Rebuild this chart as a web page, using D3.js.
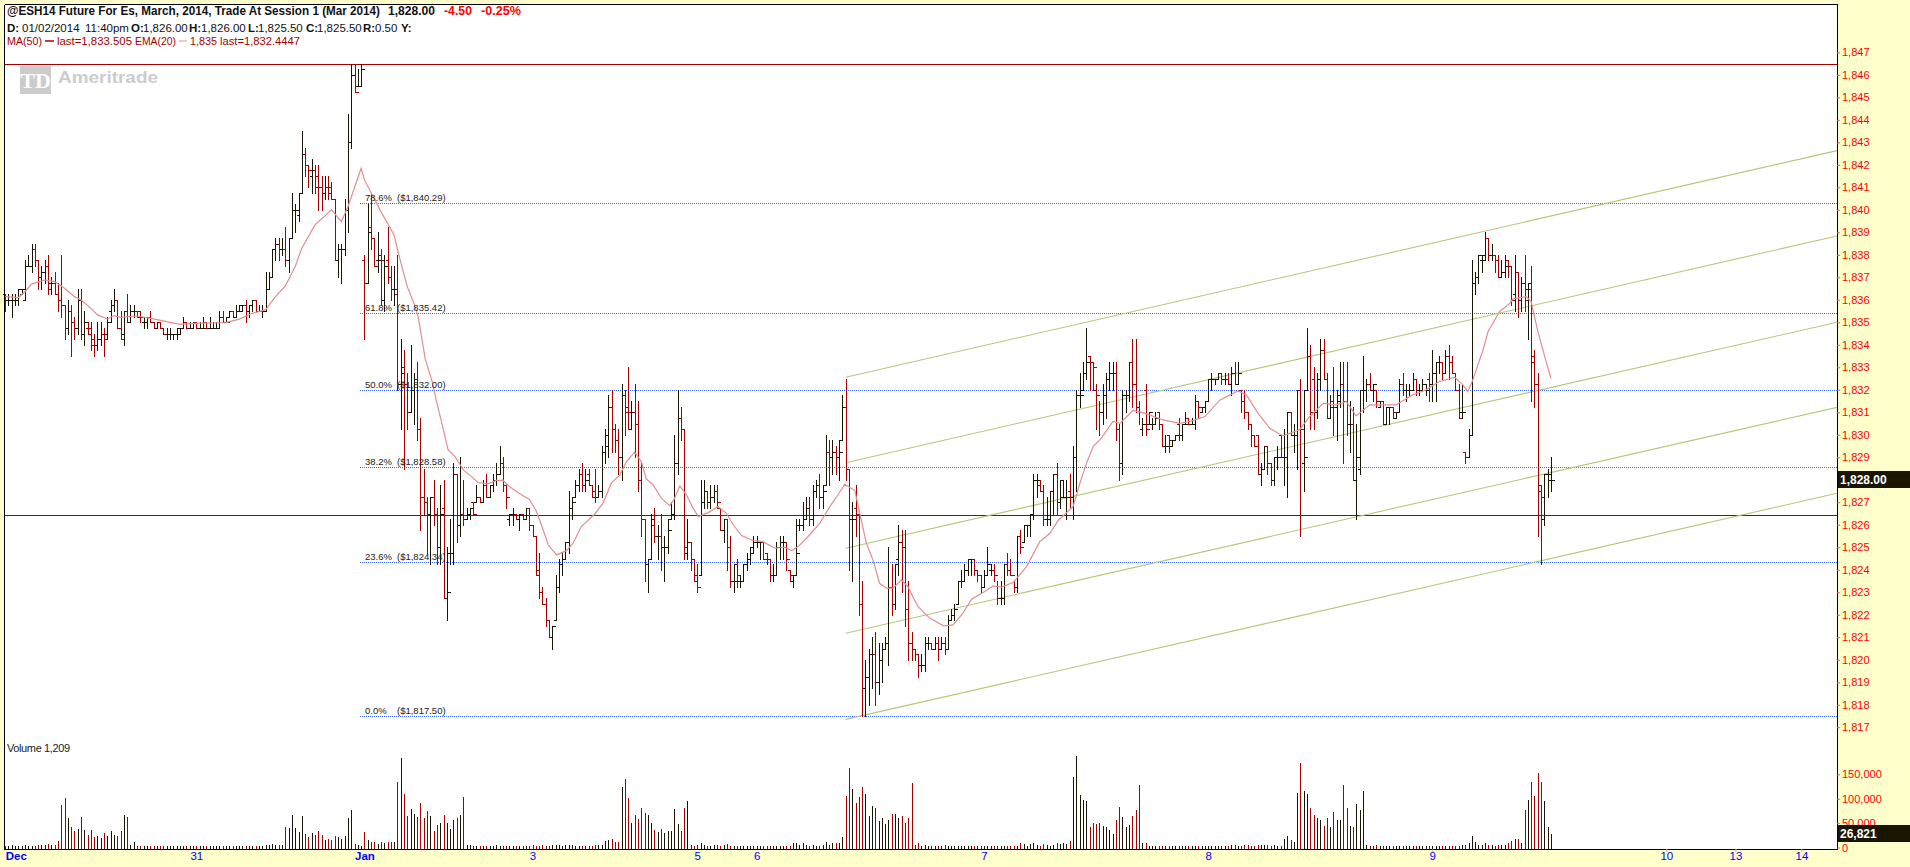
<!DOCTYPE html>
<html><head><meta charset="utf-8">
<script src="https://cdn.jsdelivr.net/npm/d3@7/dist/d3.min.js"></script>
<style>html,body{margin:0;padding:0;background:#ffffcc;overflow:hidden}svg{display:block}text{font-family:"Liberation Sans",Arial,sans-serif}</style>
</head><body><svg id="c" width="1910" height="867"></svg>
<script>
const priceBase = 1800;
const highs = [
36.25,36.25,36.25,36.25,36.5,36.5,37.75,38,38.5,38.5,
37.75,37.5,37.75,38,37,37.25,36.75,38,35.75,36,
35.75,35.25,36.5,36.5,35.5,35,35,34.5,35,35,
34.75,35.25,36,36.5,36,35.5,35.5,36.25,35.75,35.75,
35.5,35.5,35.25,35.25,35.5,35,35,35,34.75,34.75,
34.75,34.5,34.75,34.75,35.25,35,35,35,35,35,
35.25,35,35.25,35,35,35.5,35.5,35.25,35.5,35.5,
35.75,35.75,35.75,36,35.75,36,36,35.75,35.75,37.25,
37.25,38.25,38.75,38.75,38.75,39.25,38.75,40.75,40.25,40.75,
43.5,42.75,42,42.25,42,42,41.5,41.5,41.5,41.25,
40.5,38.5,38.5,40.5,44.25,46.5,46.5,46.25,46.5,38,
40.25,40.75,38.75,39,38.25,38,39.25,37.5,37.5,38,
34.25,33.75,32.75,34,32.75,33.25,30.75,28.5,27.25,27.25,
28,26.75,27.75,28,25,26.25,28.75,28.25,29,28,
26.75,26.75,27,27.75,27.25,28,28.25,27.75,28.25,28.75,
29.5,29,27.75,26.5,26.75,26.5,26.5,26.5,26.75,26.75,
26,25.5,24.75,23.25,22.75,21.75,21.5,23.75,24.5,24.75,
25.25,27.5,27.25,28,28.5,28.75,28.5,28.5,27.75,28.5,
27.75,29.5,30.25,31.75,32,30.5,30.25,32.25,32,33,
31.5,32.25,31.5,28.75,26.25,24.5,26.5,26.75,26,26.5,
25.5,26.25,27,30,32,31.25,30.25,26.25,25.25,24.5,
24.25,28,28,27.5,27.75,27.75,27.75,26.75,26.25,26.25,
25.5,24.25,24.5,23.75,24.25,24.75,25,25.5,25.5,25.25,
25.25,24.75,24.5,24.25,25.25,25.5,25.5,25.25,24,23.75,
26.25,26.25,27,27.25,27.25,27.75,28,28.25,27.75,30,
29.75,29.75,29.5,29.75,31.75,32.5,28.5,27,27.75,26.5,
23.5,20,20.5,21,21.25,20.75,20.75,21,25,24.25,
24.25,26,25.75,25.75,23.5,21.25,20.5,20.25,20.25,21,
21,20.75,21,21,21,21,22,22.25,22.5,23.5,
24,24.25,24.5,24.5,24.5,24,23.75,24,25,24.25,
24.25,23.5,23.5,24.25,24.75,24.5,23.5,25.5,25.75,26,
26,26.5,28.25,28.25,28,27.75,27.25,27.5,28.25,28.75,
28,28,28,28.25,29.5,32,32.75,33.25,34.75,33.5,
33.25,32.25,31.5,32.25,32.75,33.25,33.25,33.25,30.5,32,
32,33.25,34.25,34.25,31.5,30.75,32.25,31,30.75,31,
31,30.5,30,30,29.75,30,30.75,30.5,31,30.75,
30.75,31.75,31.5,31.25,31.5,32.5,32.75,32.5,32.75,32.75,
32.75,32.75,33,33.25,33.25,32,32,31,30.5,30,
30,28.75,29.5,29.5,28.75,29,29.5,30,30.25,31,
31,30.5,32,32.5,32,34.75,34,33,32.75,34.25,
34.25,32.75,31.75,33,32,33.25,33.25,33.25,31.5,31.25,
30.5,32,33.5,32.5,32.75,32.25,32,31.5,31.5,31.25,
31.25,31.25,31,32.5,32.75,32.25,32.25,32.75,32.5,32.25,
32.5,32.25,32.75,33.75,33.25,33.5,33.25,33.75,34,33.5,
32.75,32.25,32.25,29.25,30.25,37.75,37.25,38,38,39,
38.75,38.5,38,38,37.75,38,37.75,37.5,38,37.25,
37,38,36.75,37.5,33.75,32.75,27.75,28.25,28.5,29];
const lows = [
35.5,35.75,35.25,35.75,35.75,36.25,36,37.5,37.25,37.5,
36.5,36.5,36.75,36.25,36.25,36.25,35.5,35.25,34.25,34.5,
33.5,34.25,34.5,34.25,34,34.5,33.75,33.5,33.75,34,
33.5,34.25,35,35.5,34.75,34.25,34,35,35,35.25,
35.25,35,34.75,34.75,35,34.75,34.75,34.75,34.5,34.25,
34.25,34.25,34.25,34.5,34.75,34.75,34.75,34.75,34.75,34.75,
34.75,34.75,34.75,34.75,34.75,34.75,35,35,35.25,35.25,
35.25,35.5,35.5,35,35.25,35.5,35.5,35.5,35.25,35.5,
36.5,37,37.75,37.75,38,37.5,37.25,38.75,39,39.5,
40.75,41.5,41,40.75,40.75,40,40,40.5,40.5,40.5,
37.75,37,36.75,38,39,42.75,45.25,45.5,45.5,34.25,
36.75,38.25,37.5,37.25,35.75,35.5,36.75,36,35.75,32,
30.25,28.5,30.25,31,30.5,29.75,25.75,26.5,24.75,24.25,
26,24.25,24.25,22.75,21.75,24.25,24.25,25.25,25.5,26,
26.25,26.25,26.5,27,27,27,27.25,27.25,27.5,27.75,
28.25,27.5,26.75,26,26,26.25,25.75,26.25,26.25,25.75,
25.5,23.75,22.75,22.5,21.5,21,20.5,21.75,23,23.75,
24.5,24.75,26.25,27.25,27.5,27.5,27.5,27.75,27.25,27,
27.25,27.25,28.75,29,29.25,29.25,28.25,28,30,30.25,
30.25,29,27.5,25.5,23.5,23,24.5,25.25,24.5,24,
23.5,24.75,26.25,26.25,28.25,29.75,24.5,24.5,24,23.5,
23,23.75,26.75,26.75,26.75,27,26.75,25.75,25.25,24,
23.25,23,23.25,23.25,23.5,24,24.25,24.75,25,24.5,
24.5,24.25,23.5,23.5,23.75,24.5,24.5,24,23.5,23.25,
23.75,25.75,25.75,26.25,26,26,27.25,26.75,26.75,27.75,
27.75,28.25,28.25,28,29.75,28,24,23.5,25.5,22,
17.5,17.5,18,18.75,18,18.5,19,20.5,19.75,22,
22.25,23.75,23,21.5,20,20,20,19.25,19.5,19.5,
20.5,20.5,20.5,20,20.5,20.25,20.5,21.75,21.75,22.5,
23.25,23.5,23.75,23.75,23.75,23.5,23,23.25,23.75,23.75,
23.5,22.5,22.5,22.5,23.75,23.75,23,23,24.75,25.25,
25.5,25.5,26.25,27.25,27.5,26,26,26,26.5,26.5,
26.75,27.25,26.25,26.75,26.25,27.5,31.25,32,32.5,32,
32,30.25,30,30.5,30.75,32,32,29.75,28,28.25,
31,31.5,31.25,31,30.5,30,30,30.5,30.25,30.5,
30.25,29.5,29.25,29.25,29.5,29.75,29.75,29.75,30.5,30.5,
30.5,30.25,30.75,31,31,31.5,32,32.25,32.5,32.25,
32.25,32.25,31.75,32.25,32.25,31,30.75,30.25,29.5,29.5,
28.25,27.75,28.5,28.25,27.75,27.75,28.5,29,27.75,27.25,
30,29.25,28.5,25.5,27.5,32,30.25,30.25,30.75,32,
32.5,30.75,30.75,30,29.75,31.25,28.75,30,29.25,28,
26.25,28.25,31,31.5,32,31.5,31.25,31.25,30.5,30.5,
30.5,30.75,30.75,31,31.75,31.5,31.75,32,31.75,31.75,
32,31.75,31.5,31.5,31.5,32.75,32.5,32.75,32.5,32.75,
32,30.75,30.75,28.75,29,30,36.25,36.75,37.25,37.75,
37.75,37.75,37.25,37,37,37,37,35.75,35.5,35.25,
35.5,35.5,34.25,31.5,31.25,25.5,24.25,26,27.25,27.5];
const opens = [
36.25,36,36,36,36,36.25,36,37.5,37.5,38.25,
37.75,37,37.25,37.5,36.75,36.75,36.25,36,35.75,34.75,
35.5,35,34.75,36,34.5,34.75,34.75,34.25,34,34.25,
34.5,34.5,35.5,35.75,36,34.75,34.5,35.5,35,35.5,
35.5,35.5,35,35,35.25,35,34.75,35,34.75,34.5,
34.5,34.5,34.5,34.5,34.75,35,34.75,34.75,35,34.75,
34.75,35,34.75,34.75,34.75,34.75,35.25,35,35.25,35.5,
35.25,35.5,35.5,35.75,35.5,35.75,36,35.5,35.5,35.5,
36.5,37,38.25,38.5,38.25,38.25,37.75,38.75,40,39.75,
40.75,42.5,42,41.5,41.75,41.5,41,40.75,41,41,
40.5,37.75,38.25,38.25,40,43,46.5,45.5,45.5,37.75,
36.75,39.25,38.75,37.75,38,36,37.75,37,36.5,36.25,
32.25,33,32.25,31,32,32.5,30.25,27.25,27,26.5,
27.25,26.5,25,26.75,22.75,24.75,24.75,28.25,26,26.5,
26.25,26.5,27,27,27.25,27,27.75,27.25,27.75,28,
28.25,28.75,27.75,26.25,26.5,26.5,26.25,26.5,26.25,26.75,
26,25.5,24,23,22.5,21.75,21,21.75,23.25,24.25,
24.5,25.25,26.75,27.25,27.75,28.25,27.75,28.25,27.75,27.5,
27.25,27.5,29.25,30,31.25,30.25,29.75,29,31.75,31.25,
30.25,31,30.5,28,26.25,24.25,24.5,26,25.5,25.5,
25,25,26.25,26.5,28.75,30.75,30.25,24.75,25.25,24.5,
23.75,23.75,27,27.5,27,27.25,27.5,26.75,25.75,26.25,
25,23.5,24.25,23.5,23.5,24.25,24.5,24.75,25.25,25.25,
25.25,24.75,24.5,23.75,23.75,25,25.25,25,24,23.5,
23.75,26,26,26.25,26.75,26.25,27.5,27.75,27.25,27.75,
29.25,29,29.25,29,29.75,31.25,28.5,26.25,26.75,26.5,
22.5,18.75,19.25,20.25,20.25,19,20,20.5,20.75,23.25,
22.5,24.5,25.25,25,22.25,20.75,20.5,20.25,19.75,19.75,
20.75,20.75,20.5,20.75,20.5,20.75,20.5,21.75,22,22.5,
23.5,23.5,24,24.5,24.5,24,23.75,23.25,23.75,24,
24,23.75,22.75,22.75,24.25,24,23.75,23.25,25.5,25.25,
26,26,26.5,28,27.75,27.5,26.25,26.25,27.5,28.25,
27,27.25,27.25,27.5,27.25,29,31.75,32,32.75,33.5,
33.25,32,31.75,31,31.75,32.5,32.75,32.75,30.25,28.75,
31.75,31.75,33.25,32.25,31.25,30.25,32,30.5,30.5,30.5,
31,30.5,29.5,30,29.5,29.75,30.5,30,30.5,30.75,
30.5,30.5,31.5,31,31.25,31.5,32.5,32.5,32.5,32.75,
32.5,32.5,32.25,32.75,32.25,32,31.5,31,30.5,30,
30,28.25,28.5,29.5,28.75,28,29,30,29,29,
31,30,30,32,28.75,32,33.5,32.5,31,32.5,
33.75,32.5,30.75,31.5,31.25,31.5,32.25,31.5,30.5,30.5,
28,28.5,32,32,32.25,32,32,31.25,31.5,30.5,
31.25,31.25,30.75,31,32.25,32,32,32,32.5,32,
32,32,32.5,32.25,32.75,33.25,33.25,32.75,33.5,33.25,
32.75,32,31,29.25,29,30,36.75,37,37.75,37.75,
38.75,38,38,37.75,37,37.25,37.75,37.5,36.25,37.25,
36,36.75,36.5,36.5,33.25,32.25,27.5,26.25,28.25,28];
const closes = [
36,36,36,36,36.5,36.5,37.5,37.5,38.25,37.75,
37,37.25,37.5,36.5,36.75,36.25,36,35.75,34.75,35.5,
35,34.75,36,34.5,35,34.5,34,34,34.25,34.5,
34.25,35,35.75,36,34.75,34.25,35.5,35,35.5,35.5,
35.25,35.25,35.25,35.25,35,34.75,35,34.75,34.5,34.5,
34.5,34.5,34.75,34.75,35,34.75,34.75,35,34.75,34.75,
34.75,34.75,34.75,34.75,34.75,35.25,35,35,35.5,35.25,
35.5,35.75,35.75,35.5,35.75,36,35.5,35.5,35.5,36.5,
37,38.25,38.5,38.25,38.25,37.75,38.75,40,40,40.75,
42.5,42,41.75,41.75,41,41,40.75,41,40.75,40.5,
37.75,38.25,38.25,40,43,46,45.25,45.5,46.25,36.75,
39,38.75,37.5,37.75,37.75,37.5,37,36.5,36.5,32.25,
32.75,32.25,31,32,32.5,30.25,27.25,27,26.5,27.25,
26.5,25,26.5,22.75,23,24.75,28.25,26,26.5,26.25,
26.5,26.75,26.5,27.25,27,27.75,27.25,27.75,28,28.25,
28.75,27.75,27.25,26.5,26.5,26.25,26.5,26.25,26.75,26,
25.5,23.75,23,22.5,21.75,21,21.5,23.25,24.25,24.5,
25.25,26.75,27,27.75,28.25,27.75,28,27.75,27.25,27.25,
27.5,29.25,29.5,31.25,30.25,29.75,29,31.75,31,31,
31,30.5,28,26.25,24.25,24.5,26.25,25.5,25.5,25,
25,25.75,26.5,28.75,30.75,30.25,25,25.25,24.5,23.5,
23.25,27,27.5,27,27.25,27.5,27,25.75,26.25,25,
23.5,23.5,23.75,23.5,24.25,24.5,25,25.25,25.25,25.25,
24.5,24.5,23.75,23.75,25,25.25,25.25,24.5,23.75,23.75,
24.75,26,26.25,26.75,26.25,27.5,27.75,27.25,27.5,29.25,
29,29.25,29,29.25,31.25,28.5,26.25,26.25,26.5,22.5,
18.75,19.25,20.25,20.25,19,20,20.5,20.75,23.25,22.5,
24.25,25.25,25,22.25,20.75,20.5,20.25,19.75,19.75,20.75,
20.75,20.5,20.75,20.5,20.75,20.5,21.75,22,22.25,23.5,
23.5,24,24.5,24.5,24,23.75,23.25,23.75,24.25,24,
23.75,22.75,22.75,24.25,24,23.75,23.25,25.5,25,26,
26,26.5,28,28,27.5,26.25,26.25,27.5,28.25,27,
28,27.25,27.25,27.25,29,31.75,31.75,32.75,33.25,33.25,
33,31.75,31,31.75,32.5,32.75,32.75,30.25,28.75,31.75,
31.75,33.25,32.25,31.25,31,30.5,30.25,31,30.5,30.75,
30.5,29.5,29.5,29.75,29.75,30,30,30.5,30.5,30.5,
30.5,31.5,31.25,31.25,31.5,32.5,32.5,32.5,32.75,32.5,
32.5,32.25,32.75,32.25,32.75,31.5,31,30.5,30,29.5,
28.25,28.5,29.5,28.75,28,29,29,29,29,31,
30,30,32,30.25,29,33.5,31,31,32.5,33.75,
32.5,30.75,31.25,31.25,31.75,32.25,31.5,30.5,30.5,28,
29,32,32,32.25,32,32.25,31.5,31.5,30.5,31.25,
31.25,31,31,32.25,32,32,32,32.5,32,32,
32.25,32,32.25,32.75,33.25,33.25,32.75,33.5,33.25,32.75,
32,30.75,31,29,30,36.75,37,38,38,38.75,
38,38,37.75,37,37.25,37.5,37.5,36,37.25,36,
36.75,36,36.75,33.5,32.25,27.75,27.25,28.25,28.25,28];
const volumesK = [
3,4,6,4,4,4,6,4,4,4, 6,5,6,8,6,6,14,88,102,61,
41,33,38,62,36,26,36,21,23,19, 30,23,34,26,23,34,67,63,6,12,
3,3,3,3,3,3,3,3,3,3, 3,3,3,4,3,3,3,3,3,3,
3,3,3,3,3,3,3,3,3,3, 3,3,3,3,3,3,3,3,4,6,
6,8,6,6,6,42,40,67,40,32, 65,27,21,30,26,34,26,15,17,15,
23,21,17,23,61,77,8,6,4,32, 15,12,12,8,12,10,12,12,12,135,
183,110,65,79,69,63,92,61,75,65, 34,46,50,67,50,38,57,61,67,104,
6,6,4,4,4,4,4,4,4,6, 4,4,4,4,4,4,4,4,4,4,
6,4,4,6,4,4,5,5,5,4, 6,5,5,4,4,4,4,4,4,5,
5,5,13,15,18,11,11,123,140,101, 50,66,58,80,71,67,50,35,31,37,
29,33,33,78,48,33,80,95,6,4, 6,9,6,4,4,5,6,4,6,7,
4,4,4,4,4,4,4,4,4,4, 4,4,4,4,4,4,4,4,4,9,
9,6,9,6,4,6,4,4,6,11, 6,9,9,9,21,106,163,120,91,103,
125,110,65,86,80,54,61,48,56,69, 69,61,65,50,61,133,6,9,4,6,
4,4,4,4,4,5,4,4,4,4, 4,4,4,4,4,4,4,4,4,4,
4,4,4,4,4,4,4,4,10,8, 4,8,10,6,4,8,6,4,6,9,
8,9,8,13,145,187,107,98,96,41, 51,49,51,45,41,36,28,56,83,62,
43,47,64,77,128,9,9,4,4,4, 4,4,4,4,4,4,4,4,4,4,
4,4,4,4,4,4,4,4,4,4, 4,4,6,6,4,4,5,6,4,4,
6,6,5,5,4,6,4,4,17,24, 15,11,111,174,116,109,81,66,60,56,
45,60,43,73,56,56,128,81,45,41, 90,77,116,6,4,4,6,4,4,4,
4,4,4,4,4,4,4,4,4,4, 4,4,4,4,4,4,4,4,4,4,
4,4,5,5,9,24,11,6,6,9, 6,6,4,6,6,6,9,13,17,17,
9,77,98,135,105,152,135,96,43,27];
const emaIndex = [0,4,6,8,12,15,18,21,23,26,28,31,33,35,40,45,49,53,59,67,71,75,79,82,85,88,90,94,99,102,104,108,109,114,118,119.3,122,124,125.3,127.5,129.4,131,132,134.4,136.5,139,141.5,143.5,146.5,149,151,153.6,156.6,159,161,162.5,164.8,167.3,170.3,172.3,174.8,178.9,181.4,183.9,186.5,188.5,191,193,194.5,196.6,199.1,201.6,202.9,204.7,206.7,208.7,210.3,213.3,216.3,218.8,220.9,223.4,226.9,229.9,233.5,236.5,238.6,240.6,243.6,247.2,250.2,253,254.7,257.8,259.3,261.3,263.3,265.3,267.4,269.4,271.9,273.9,276.9,280.5,284.7,287.6,290.6,293.2,296.7,299.8,302.3,305.8,309.9,313.9,317,319.5,324,326.1,328.1,330.1,332.6,336.1,338.2,342.2,345.7,351.3,356.4,360.4,364,368.6,374.1,376.6,380.1,383.7,387.7,392.7,395.8,399.9,403.9,406.9,409.9,414,418,422,427,431,435,439.8,442.3,443.8,445.3,448.4,449.9,451.4,453.4,456.5,457.5,461.5,463,464,465.3,466,469];
const emaValues = [36.14,36.1,36.36,36.7,36.88,36.81,36.51,36.14,36,35.62,35.33,35.15,35.3,35.22,35.28,35.15,35.03,34.91,34.96,34.99,35.14,35.4,35.55,36.14,36.62,37.48,38.29,39.33,40,39.48,40.14,41.85,41.33,39.92,38.88,38.07,36.59,35.85,35.25,33.33,32.44,31.4,30.81,29.33,29.03,28.44,28.14,27.88,27.82,27.97,27.97,27.63,27.33,27.14,26.66,26.07,25.1,24.66,24.85,25.18,25.92,26.48,26.96,27.85,28.22,28.81,29.23,28.81,28.04,27.77,27.18,26.85,27.11,27.73,27.33,26.74,26.37,26.54,26.81,26.51,26,25.52,25.3,25.25,24.96,25,24.85,25.03,25.48,26.07,26.81,27.4,27.8,27.52,26.51,25.18,24.44,23.4,23.18,23.18,23.55,23.25,22.37,21.85,21.51,21.55,22.07,22.69,22.99,23.28,23.23,23.43,24.14,25.25,25.62,26.19,26.81,27.85,28.74,29.48,29.85,30.59,30.51,31.08,30.96,30.66,30.51,30.63,30.81,31.55,31.95,31.77,30.96,30.29,29.95,30.22,30.81,31.4,31.33,31.48,30.84,31.33,31.33,31.33,31.77,31.99,32.36,32.56,32.22,31.92,32.44,33.77,34.58,34.96,35.47,35.84,36.04,36.14,35.92,35.25,34.44,34.07,32.51];
const fibLevels = [1840.29,1835.42,1832,1828.58,1824.34,1817.5];
const fibPercents = ["78.6%","61.8%","50.0%","38.2%","23.6%","0.0%"];
const fibPrices = ["$1,840.29","$1,835.42","$1,832.00","$1,828.58","$1,824.34","$1,817.50"];
const swingHigh = 1846.5, refLine = 1826.44;
const channelStart = [1832.56,1828.76,1824.96,1821.18,1817.35];
const channelEnd = [1842.63,1838.84,1835.0,1831.22,1827.4];
const priceTicks = d3.range(1817,1848).filter(p=>p!==1828);
const volumeTicks = [0,50000,100000,150000];
const dateTickIndex = [0,58,109,160,210,228,297,365,433,504,525,545];
const dateTickLabels = ["Dec","31","Jan","3","5","6","7","8","9","10","13","14"];
const boldDates = ["Dec","Jan"];
const markedDates = ["9","10","13","14"];
const lastPrice = "1,828.00", lastVolume = "26,821";

const BLK="#1a1500", RED="#a80000", L=5, R=1837, T=5, B=849;
const svg=d3.select("#c");
svg.append("rect").attr("width",1910).attr("height",867).attr("fill","#ffffcc");
svg.append("rect").attr("x",L).attr("y",T).attr("width",R-L).attr("height",B-T).attr("fill","#fff");
const x=d3.scaleLinear().domain([0,555.8]).range([5.2,1837]);
const y=d3.scaleLinear().domain([1817.5,1840.29]).range([716,203.3]);
const yv=d3.scaleLinear().domain([0,150000]).range([847.5,774.3]);
const sx=i=>Math.round(x(i))+0.5, sy=v=>Math.round(y(v))+0.5;
const n=highs.length, idx=d3.range(n);
const col=i=>closes[i]<opens[i]?RED:BLK;

// logo
const logo=svg.append("g");
logo.append("rect").attr("x",20).attr("y",66).attr("width",31).attr("height",28).attr("fill","#cccccc");
logo.append("text").attr("x",35.5).attr("y",88).attr("text-anchor","middle").attr("fill","#fff").style("font-family","'Liberation Serif'").attr("font-weight",700).attr("font-size",22).text("TD");
logo.append("text").attr("x",58).attr("y",83).attr("fill","#cccccc").attr("font-weight",700).attr("font-size",16).attr("textLength",100).attr("lengthAdjust","spacingAndGlyphs").text("Ameritrade");

// horizontal lines
const hl=svg.append("g").attr("shape-rendering","crispEdges");
hl.selectAll("line.r").data([swingHigh,refLine]).join("line").attr("class","r").attr("x1",L).attr("x2",R).attr("y1",sy).attr("y2",sy).attr("stroke",RED);
hl.selectAll("line.f").data(fibLevels).join("line").attr("class","f").attr("x1",360).attr("x2",R).attr("y1",sy).attr("y2",sy).attr("stroke","#3a64ff").attr("stroke-dasharray","1,1");

// channel
svg.append("g").selectAll("line").data(channelStart).join("line")
 .attr("x1",x(255)).attr("x2",R).attr("y1",d=>y(d)).attr("y2",(d,i)=>y(channelEnd[i]))
 .attr("stroke","#b3c97a").attr("stroke-width",1.1);

// price bars
const bars=svg.append("g").attr("shape-rendering","crispEdges");
bars.selectAll("path").data(idx).join("path")
 .attr("fill","none").attr("stroke",col)
 .attr("d",i=>{const X=sx(i);return `M${X},${Math.round(y(highs[i]+priceBase))}V${Math.round(y(lows[i]+priceBase))+1}M${X-3},${sy(opens[i]+priceBase)}H${X}M${X},${sy(closes[i]+priceBase)}H${X+3}`;});

// EMA
svg.append("path").datum(emaIndex).attr("fill","none").attr("stroke","#e08f8f").attr("stroke-width",1.2)
 .attr("d",d3.line().x(i=>x(i)).y((i,k)=>y(emaValues[k]+priceBase)));

// volume
svg.append("g").attr("shape-rendering","crispEdges").selectAll("line").data(idx).join("line")
 .attr("x1",sx).attr("x2",sx).attr("y1",B).attr("y2",i=>yv(volumesK[i]*1000)).attr("stroke",col);

// frame
const fr=svg.append("g").attr("shape-rendering","crispEdges").attr("stroke","#000").attr("fill","none");
fr.append("path").attr("d",`M${L-0.5},4.5H${R+0.5}M${L-0.5},4.5V${B+0.5}H${R+0.5}V4.5`);

// axes
const axP=svg.append("g").attr("transform",`translate(${R},0)`).call(d3.axisRight(y).tickValues(priceTicks).tickFormat(d3.format(",")).tickSize(3).tickPadding(2));
const axV=svg.append("g").attr("transform",`translate(${R},0)`).call(d3.axisRight(yv).tickValues(volumeTicks).tickFormat(d3.format(",")).tickSize(3).tickPadding(2));
[axP,axV].forEach(a=>{a.select(".domain").remove();a.selectAll("line").attr("stroke","#e06060");a.selectAll("text").attr("fill","#ff0000").attr("font-size",11).attr("font-family",null);});
const axD=svg.append("g").attr("transform",`translate(0,${B})`).call(d3.axisBottom(x).tickValues(dateTickIndex).tickFormat((d,i)=>dateTickLabels[i]).tickSize(3).tickPadding(0));
axD.select(".domain").remove();
axD.selectAll("text").attr("fill","#0000ff").attr("font-family",null).attr("font-size",11.5).attr("font-weight",function(){return boldDates.includes(this.textContent)?700:400;});
axD.selectAll(".tick").each(function(){const t=d3.select(this);const s=t.select("text").text();t.select("line").attr("stroke",markedDates.includes(s)?"#b9b9a0":"none");if(s==="Dec")t.select("text").attr("text-anchor","start").attr("x",0);});

// last value boxes
[[y(1828),lastPrice],[834,lastVolume]].forEach(([cy,t])=>{
 svg.append("rect").attr("x",R+1).attr("y",Math.round(cy)-9).attr("width",73).attr("height",17).attr("fill",BLK);
 svg.append("text").attr("x",R+3).attr("y",Math.round(cy)+4).attr("fill","#fff").attr("font-weight",700).attr("font-size",12).text(t);
});

// fib labels
const fl=svg.append("g").attr("font-size",9.5).attr("fill","#222");
fl.selectAll("text.p").data(fibLevels).join("text").attr("class","p").attr("x",365).attr("y",d=>y(d)-2).text((d,i)=>fibPercents[i]);
fl.selectAll("text.v").data(fibLevels).join("text").attr("class","v").attr("x",397).attr("y",d=>y(d)-2).text((d,i)=>"("+fibPrices[i]+")");

// header
const h=svg.append("g").attr("font-size",11.5);
const tx=(s,X,Y,f,b,w)=>{const e=h.append("text").attr("x",X).attr("y",Y).attr("fill",f).attr("font-weight",b?700:400).text(s);if(w)e.attr("textLength",w).attr("lengthAdjust","spacingAndGlyphs");return e;};
tx("@ESH14 Future For Es, March, 2014, Trade At Session 1 (Mar 2014)",7,15,"#111",1,373).attr("font-size",12);
tx("1,828.00",388,15,"#111",1,47).attr("font-size",12);
tx("-4.50",444,15,"#ff0000",1,28).attr("font-size",12);
tx("-0.25%",481,15,"#ff0000",1,40).attr("font-size",12);
[["D:",7,1],["01/02/2014",22,0],["11:40pm",85,0],["O:",131,1],["1,826.00",143,0],["H:",189,1],["1,826.00",201,0],["L:",248,1],["1,825.50",258,0],["C:",306,1],["1,825.50",317,0],["R:",363,1],["0.50",375,0],["Y:",401,1]].forEach(([s,X,b])=>tx(s,X,32,"#111",b));
tx("MA(50)",7,45,"#a80000",0,35);
h.append("line").attr("x1",45).attr("x2",54).attr("y1",41).attr("y2",41).attr("stroke","#a80000").attr("stroke-width",1.5);
tx("last=1,833.505",57,45,"#a80000",0,75);
tx("EMA(20)",135,45,"#a80000",0,41);
h.append("line").attr("x1",179).attr("x2",187).attr("y1",41).attr("y2",41).attr("stroke","#e08f8f");
tx("1,835",190,45,"#a80000",0,27);
tx("last=1,832.4447",220,45,"#a80000",0,80);
svg.append("text").attr("x",7).attr("y",752).attr("font-size",11).attr("fill","#222").attr("textLength",63).text("Volume 1,209");
</script></body></html>
